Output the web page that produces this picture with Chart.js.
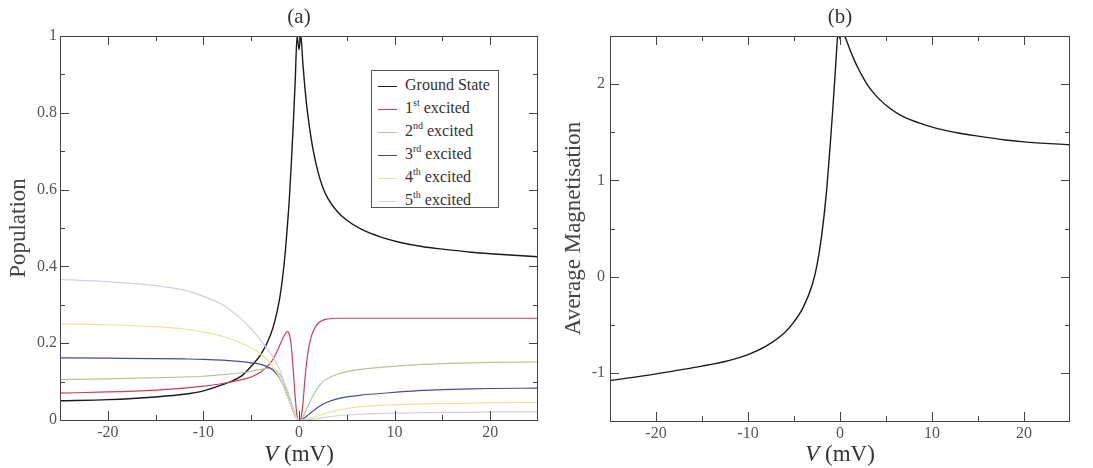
<!DOCTYPE html>
<html>
<head>
<meta charset="utf-8">
<script src="https://cdn.jsdelivr.net/npm/chart.js@4.4.1/dist/chart.umd.min.js"></script>
<style>
  body { margin: 0; background: #fff; }
  #wrap { position: relative; width: 1093px; height: 468px; }
  #popChart { position: absolute; left: 0; top: 0; }
  #magChart { position: absolute; left: 550px; top: 0; }
  #legend {
    position: absolute; left: 371px; top: 70px; width: 128px; height: 138px;
    border: 1px solid #555; background: #fff;
    font-family: "Liberation Serif", "Times New Roman", Times, "DejaVu Serif", serif; font-size: 16px; color: #333;
    box-sizing: border-box; padding-top: 2px;
  }
  #legend .row { height: 23px; line-height: 23px; white-space: nowrap; }
  #legend .swatch { display: inline-block; width: 19px; height: 1px; vertical-align: middle; margin: 0 8px 0 6px; }
  #legend sup { font-size: 10px; vertical-align: 7px; line-height: 0; }
</style>
</head>
<body>
<div id="wrap">
  <canvas id="popChart" width="550" height="468"></canvas>
  <canvas id="magChart" width="543" height="468"></canvas>
  <div id="legend"></div>
</div>
<script>
// V (mV) sample points, shared by every curve
var voltage = [-25, -20, -15, -12, -10, -8, -6, -5, -4, -3, -2.5, -2, -1.5, -1.2, -1, -0.8, -0.6, -0.4, -0.2, 0,
  0.2, 0.4, 0.6, 0.8, 1, 1.2, 1.5, 2, 2.5, 3, 4, 5, 6.5, 8.5, 10.5, 13, 15, 18, 20, 25];

var groundState = [0.05, 0.053, 0.06, 0.067, 0.076, 0.092, 0.115, 0.14, 0.17, 0.22, 0.26, 0.32, 0.42, 0.51, 0.58, 0.67, 0.77, 0.88, 1.0, 0.965,
  1.0, 0.93, 0.87, 0.82, 0.78, 0.745, 0.70, 0.645, 0.605, 0.578, 0.543, 0.52, 0.497, 0.477, 0.463, 0.451, 0.445, 0.437, 0.433, 0.425];
var excited1 = [0.07, 0.073, 0.078, 0.083, 0.088, 0.095, 0.105, 0.112, 0.125, 0.148, 0.168, 0.195, 0.222, 0.23, 0.222, 0.19, 0.13, 0.06, 0.01, 0,
  0.005, 0.04, 0.1, 0.15, 0.185, 0.21, 0.232, 0.252, 0.26, 0.263, 0.265, 0.265, 0.265, 0.265, 0.265, 0.265, 0.265, 0.265, 0.265, 0.265];
var excited2 = [0.105, 0.107, 0.11, 0.112, 0.114, 0.118, 0.123, 0.127, 0.132, 0.135, 0.13, 0.118, 0.095, 0.075, 0.06, 0.045, 0.03, 0.015, 0.004, 0,
  0.002, 0.008, 0.018, 0.03, 0.04, 0.05, 0.065, 0.085, 0.1, 0.108, 0.119, 0.126, 0.132, 0.137, 0.141, 0.145, 0.147, 0.149, 0.15, 0.151];
var excited3 = [0.162, 0.161, 0.16, 0.159, 0.158, 0.156, 0.152, 0.149, 0.145, 0.135, 0.125, 0.108, 0.082, 0.062, 0.05, 0.036, 0.022, 0.01, 0.003, 0,
  0.001, 0.003, 0.006, 0.01, 0.014, 0.018, 0.024, 0.033, 0.041, 0.047, 0.055, 0.06, 0.065, 0.069, 0.073, 0.077, 0.079, 0.081, 0.082, 0.083];
var excited4 = [0.25, 0.248, 0.243, 0.237, 0.229, 0.218, 0.2, 0.188, 0.172, 0.148, 0.13, 0.11, 0.08, 0.06, 0.048, 0.035, 0.022, 0.01, 0.003, 0,
  0, 0.001, 0.002, 0.003, 0.004, 0.005, 0.007, 0.011, 0.015, 0.019, 0.025, 0.03, 0.035, 0.038, 0.04, 0.042, 0.043, 0.044, 0.045, 0.046];
var excited5 = [0.366, 0.36, 0.35, 0.338, 0.322, 0.3, 0.262, 0.237, 0.207, 0.175, 0.155, 0.13, 0.095, 0.072, 0.057, 0.042, 0.027, 0.013, 0.004, 0,
  0, 0, 0, 0, 0.001, 0.001, 0.002, 0.004, 0.006, 0.008, 0.011, 0.013, 0.015, 0.017, 0.018, 0.019, 0.02, 0.02, 0.021, 0.021];

var magnetisation = [-1.08, -1.01, -0.93, -0.87, -0.81, -0.72, -0.58, -0.47, -0.32, -0.08, 0.12, 0.42, 0.85, 1.2, 1.45, 1.72, 2.0, 2.3, 2.55, 2.47,
  2.56, 2.53, 2.48, 2.43, 2.38, 2.33, 2.26, 2.16, 2.07, 1.99, 1.87, 1.78, 1.68, 1.6, 1.54, 1.49, 1.46, 1.42, 1.4, 1.37];

var seriesNames = ['Ground State', '1|st| excited', '2|nd| excited', '3|rd| excited', '4|th| excited', '5|th| excited'];
var seriesColors = ['#1a1a1a', '#c8405e', '#b9c39a', '#4b4b93', '#e6e69a', '#cfd2de'];

var xMajor = [-20, -10, 0, 10, 20];
var xMinor = [-15, -5, 5, 15];
var popMajor = [0, 0.2, 0.4, 0.6, 0.8, 1];
var popMinor = [0.1, 0.3, 0.5, 0.7, 0.9];
var magMajor = [-1, 0, 1, 2];
var magMinor = [-0.5, 0.5, 1.5];

var serif = '"Liberation Serif", "Times New Roman", Times, "DejaVu Serif", serif';

// frame, inward ticks on all four sides, panel label and the V (mV) title
var frameTicks = {
  id: 'frameTicks',
  afterDraw: function(chart, args, o) {
    var ctx = chart.ctx, a = chart.chartArea, x = chart.scales.x, y = chart.scales.y;
    ctx.save();
    ctx.strokeStyle = '#444';
    ctx.lineWidth = 1;
    ctx.strokeRect(a.left + 0.5, a.top + 0.5, a.right - a.left - 1, a.bottom - a.top);
    ctx.beginPath();
    function xt(list, len) {
      list.forEach(function(v) {
        var px = Math.round(x.getPixelForValue(v)) + 0.5;
        ctx.moveTo(px, a.bottom); ctx.lineTo(px, a.bottom - len);
        ctx.moveTo(px, a.top); ctx.lineTo(px, a.top + len);
      });
    }
    function yt(list, len) {
      list.forEach(function(v) {
        var py = Math.round(y.getPixelForValue(v)) + 0.5;
        ctx.moveTo(a.left, py); ctx.lineTo(a.left + len, py);
        ctx.moveTo(a.right, py); ctx.lineTo(a.right - len, py);
      });
    }
    xt(o.xMajor, 9); xt(o.xMinor, 5);
    yt(o.yMajor, 9); yt(o.yMinor, 5);
    ctx.stroke();

    var cx = (a.left + a.right) / 2;
    ctx.fillStyle = '#333';
    ctx.textBaseline = 'middle';
    ctx.textAlign = 'center';
    ctx.font = '21px ' + serif;
    ctx.fillText(o.label, cx, 17);

    ctx.textAlign = 'left';
    ctx.font = 'italic 23px ' + serif;
    var w1 = ctx.measureText('V').width;
    ctx.font = '23px ' + serif;
    var w2 = ctx.measureText(' (mV)').width;
    var sx = cx - (w1 + w2) / 2;
    ctx.font = 'italic 23px ' + serif;
    ctx.fillText('V', sx, 455);
    ctx.font = '23px ' + serif;
    ctx.fillText(' (mV)', sx + w1, 455);
    ctx.restore();
  }
};

function points(ys) {
  return voltage.map(function(v, i) { return { x: v, y: ys[i] }; });
}

function axes(yMin, yMax, yTicks, yTitle, titlePad, labelPad, xHeight) {
  return {
    x: {
      type: 'linear', min: -25, max: 25,
      grid: { display: false, drawTicks: false },
      border: { display: false },
      afterBuildTicks: function(s) { s.ticks = xMajor.map(function(v) { return { value: v }; }); },
      afterFit: function(s) { s.height = xHeight; },
      ticks: { padding: 3, color: '#555', font: { family: serif, size: 16 }, maxRotation: 0,
        callback: function(v) { return String(v); } }
    },
    y: {
      type: 'linear', min: yMin, max: yMax,
      grid: { display: false, drawTicks: false },
      border: { display: false },
      afterBuildTicks: function(s) { s.ticks = yTicks.map(function(v) { return { value: v }; }); },
      afterFit: function(s) { s.width = 60; },
      ticks: { padding: labelPad, color: '#555', font: { family: serif, size: 16 },
        callback: function(v) { return String(v); } },
      title: { display: true, text: yTitle, color: '#444', font: { family: serif, size: 23 }, padding: { top: titlePad, bottom: 0 } }
    }
  };
}

var popSeries = [groundState, excited1, excited2, excited3, excited4, excited5];

new Chart(document.getElementById('popChart'), {
  type: 'line',
  data: {
    datasets: popSeries.map(function(s, i) {
      return {
        label: seriesNames[i].replace(/\|/g, ''),
        data: points(s),
        borderColor: seriesColors[i],
        borderWidth: i === 0 ? 1.4 : 1.2,
        pointRadius: 0,
        cubicInterpolationMode: 'monotone',
        fill: false
      };
    }).reverse()
  },
  options: {
    responsive: false,
    animation: false,
    devicePixelRatio: 1,
    layout: { padding: { top: 36, right: 12, left: 0, bottom: 0 } },
    scales: axes(0, 1, popMajor, 'Population', 5, 3, 48),
    plugins: {
      legend: { display: false },
      tooltip: { enabled: false },
      frameTicks: { label: '(a)', xMajor: xMajor, xMinor: xMinor, yMajor: popMajor, yMinor: popMinor }
    }
  },
  plugins: [frameTicks]
});

new Chart(document.getElementById('magChart'), {
  type: 'line',
  data: {
    datasets: [{
      label: 'Average Magnetisation',
      data: points(magnetisation),
      borderColor: '#1a1a1a',
      borderWidth: 1.4,
      pointRadius: 0,
      cubicInterpolationMode: 'monotone',
      fill: false
    }]
  },
  options: {
    responsive: false,
    animation: false,
    devicePixelRatio: 1,
    layout: { padding: { top: 36, right: 23, left: 0, bottom: 0 } },
    scales: axes(-1.5, 2.5, magMajor, 'Average Magnetisation', 10, 5, 47),
    plugins: {
      legend: { display: false },
      tooltip: { enabled: false },
      frameTicks: { label: '(b)', xMajor: xMajor, xMinor: xMinor, yMajor: magMajor, yMinor: magMinor }
    }
  },
  plugins: [frameTicks]
});

// legend with superscripts
var legend = document.getElementById('legend');
seriesNames.forEach(function(name, i) {
  var parts = name.split('|');
  var row = document.createElement('div');
  row.className = 'row';
  var sw = document.createElement('span');
  sw.className = 'swatch';
  sw.style.backgroundColor = seriesColors[i];
  row.appendChild(sw);
  row.appendChild(document.createTextNode(parts[0]));
  if (parts.length > 1) {
    var sup = document.createElement('sup');
    sup.textContent = parts[1];
    row.appendChild(sup);
    row.appendChild(document.createTextNode(parts[2]));
  }
  legend.appendChild(row);
});
</script>
</body>
</html>
